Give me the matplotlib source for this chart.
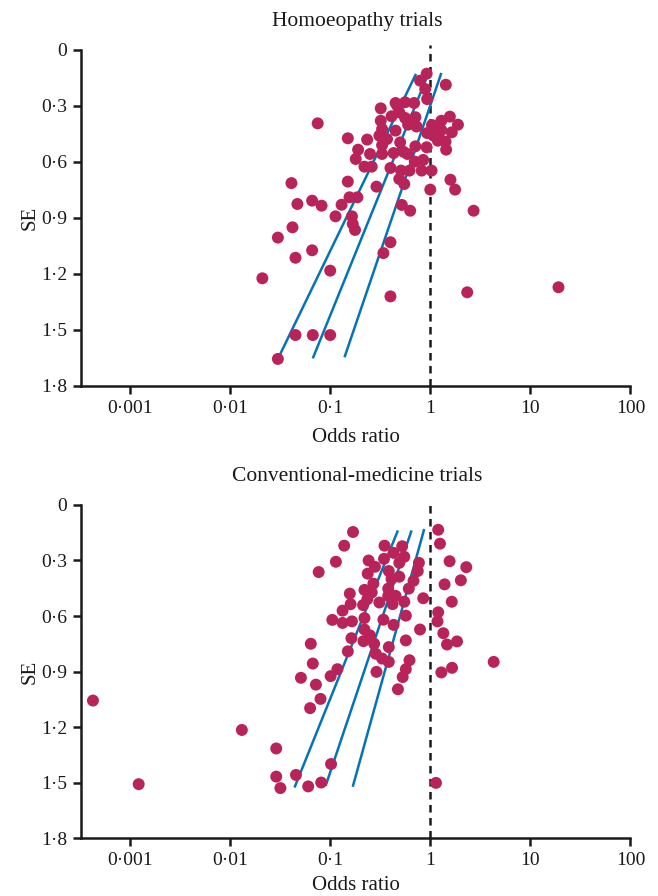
import matplotlib
matplotlib.use("Agg")
import matplotlib.pyplot as plt
import numpy as np

# ---------------- data ----------------
homo_or = [0.92, 0.79, 1.43, 0.89, 0.93, 0.45, 0.56, 0.69, 0.32, 0.41, 0.49, 0.56, 0.71, 0.73,
           0.32, 0.33, 0.45, 0.075, 0.15, 0.234, 0.31, 0.37, 0.50, 0.33, 0.33, 0.19, 0.25, 0.43,
           0.54, 0.71, 0.92, 0.93, 1.04, 1.29, 1.57, 1.89, 1.64, 1.29, 1.19, 1.42, 1.44, 1.08,
           0.18, 0.22, 0.26, 0.40, 0.59, 0.70, 0.85, 0.82, 1.03, 0.62, 0.51, 0.49, 0.55, 0.29,
           1.0, 1.59, 1.77, 0.15, 0.041, 0.047, 0.066, 0.082, 0.13, 0.156, 0.187, 0.52, 0.63,
           2.71, 0.113, 0.165, 0.168, 0.177, 0.042, 0.030, 0.066, 0.045, 0.40, 0.34, 0.100,
           0.021, 0.40, 2.34, 19.1, 0.045, 0.067, 0.10, 0.030, 1.10, 1.22, 0.47, 0.60]
homo_se = [0.127, 0.164, 0.186, 0.209, 0.263, 0.284, 0.28, 0.284, 0.3125, 0.355, 0.334, 0.364,
           0.36, 0.41, 0.379, 0.423, 0.432, 0.393, 0.473, 0.48, 0.459, 0.477, 0.495, 0.51, 0.557,
           0.534, 0.557, 0.552, 0.545, 0.516, 0.521, 0.445, 0.402, 0.379, 0.357, 0.40, 0.441,
           0.429, 0.486, 0.491, 0.534, 0.459, 0.584, 0.625, 0.625, 0.632, 0.557, 0.598, 0.589,
           0.646, 0.646, 0.646, 0.646, 0.691, 0.718, 0.732, 0.748, 0.695, 0.748, 0.705, 0.713,
           0.825, 0.807, 0.834, 0.829, 0.789, 0.789, 0.83, 0.861, 0.861, 0.891, 0.891, 0.932,
           0.964, 0.95, 1.005, 1.073, 1.113, 1.03, 1.088, 1.182, 1.223, 1.32, 1.298, 1.271,
           1.527, 1.527, 1.527, 1.655, 0.42, 0.47, 0.30, 0.40]

conv_or = [0.000426, 0.00122, 0.0131, 0.0289, 0.0289, 0.0318, 0.0455, 0.0603, 0.0813, 0.102,
           0.169, 0.138, 0.114, 0.0767, 0.349, 0.524, 0.43, 0.55, 0.49, 0.345, 0.242, 0.28,
           0.237, 0.385, 0.49, 0.41, 0.77, 0.75, 0.68, 0.61, 0.27, 0.22, 0.26, 0.38, 0.157,
           0.235, 0.213, 0.16, 0.31, 0.38, 0.45, 0.42, 0.55, 0.85, 0.133, 0.57, 0.22, 0.34,
           0.105, 0.133, 0.165, 0.43, 0.22, 0.25, 0.163, 0.215, 0.275, 0.57, 0.79, 0.064,
           0.385, 0.15, 0.285, 0.33, 0.385, 0.62, 0.57, 0.067, 0.118, 0.29, 0.101, 0.53,
           0.051, 0.072, 0.475, 0.08, 0.063,
           1.20, 1.25, 1.56, 2.29, 2.02, 1.39, 1.64, 1.20, 1.18, 1.35, 1.47, 1.85, 4.30,
           1.65, 1.29, 1.14]
conv_se = [1.057, 1.509, 1.216, 1.316, 1.468, 1.530, 1.459, 1.521, 1.5, 1.4,
           0.146, 0.22, 0.307, 0.3625, 0.22, 0.223, 0.259, 0.28, 0.3125, 0.291, 0.3, 0.334,
           0.371, 0.357, 0.3875, 0.40, 0.3125, 0.357, 0.41, 0.452, 0.425, 0.459, 0.473, 0.452,
           0.479, 0.509, 0.541, 0.536, 0.527, 0.491, 0.491, 0.536, 0.523, 0.504, 0.571, 0.598,
           0.611, 0.62, 0.621, 0.6375, 0.629, 0.648, 0.673, 0.705, 0.72, 0.736, 0.75, 0.732,
           0.673, 0.75, 0.768, 0.791, 0.804, 0.83, 0.848, 0.839, 0.8875, 0.857, 0.8875, 0.902,
           0.925, 0.93, 0.934, 0.971, 0.996, 1.048, 1.098,
           0.134, 0.209, 0.304, 0.336, 0.407, 0.429, 0.523, 0.58, 0.629, 0.693, 0.754,
           0.7375, 0.848, 0.880, 0.905, 1.502]

# regression lines: (OR at bottom, SE at bottom, OR at top, SE at top)
homo_lines = [(0.030, 1.655, 0.72, 0.128), (0.067, 1.652, 0.95, 0.13), (0.139, 1.646, 1.29, 0.123)]
conv_lines = [(0.044, 1.527, 0.475, 0.1375), (0.090, 1.518, 0.65, 0.1375), (0.168, 1.523, 0.87, 0.13)]

titles = ["Homoeopathy trials", "Conventional-medicine trials"]
xticks = [0.001, 0.01, 0.1, 1, 10, 100]
xticklabels = ["0\u00b7001", "0\u00b701", "0\u00b71", "1", "10", "100"]
yticks = [0, 0.3, 0.6, 0.9, 1.2, 1.5, 1.8]
yticklabels = ["0", "0\u00b73", "0\u00b76", "0\u00b79", "1\u00b72", "1\u00b75", "1\u00b78"]

# ---------------- plot ----------------
plt.rcParams['font.family'] = ['Liberation Serif', 'DejaVu Serif']
DOT = '#B8245A'
BLUE = '#0474B4'
INK = '#1a1a1a'

fig = plt.figure(figsize=(6.58, 8.96), dpi=100)
ax1 = fig.add_axes([0.1231, 0.5692, 0.8350, 0.3750])
ax2 = fig.add_axes([0.1231, 0.0647, 0.8350, 0.3717])

panels = [(ax1, homo_or, homo_se, homo_lines, titles[0], 8),
          (ax2, conv_or, conv_se, conv_lines, titles[1], 5)]

for ax, ors, ses, lines, title, xpad in panels:
    ax.set_xscale('log')
    ax.set_xlim(10 ** -3.49, 100)
    ax.set_ylim(1.8, 0)
    ax.plot([1, 1], [1.8, -0.025], ls=(0, (3, 2.2)), color=INK, lw=1.8,
            clip_on=False, zorder=1)
    for (x0, y0, x1, y1) in lines:
        ax.plot([x0, x1], [y0, y1], color=BLUE, lw=1.8, zorder=2, solid_capstyle='butt')
    ax.scatter(ors, ses, s=74, color=DOT, edgecolors='none', zorder=3, clip_on=False)
    ax.set_xticks(xticks)
    ax.set_xticklabels(xticklabels)
    ax.minorticks_off()
    ax.set_yticks(yticks)
    ax.set_yticklabels(yticklabels)
    for s in ['top', 'right']:
        ax.spines[s].set_visible(False)
    for s in ['left', 'bottom']:
        ax.spines[s].set_linewidth(1.8)
        ax.spines[s].set_color(INK)
    ax.tick_params(axis='both', direction='out', length=6, width=1.8, color=INK,
                   labelsize=14, labelcolor=INK, pad=4)
    ax.set_xlabel("Odds ratio", fontsize=15, color=INK, labelpad=xpad)
    ax.set_ylabel("SE", fontsize=15, color=INK, labelpad=1)
    ax.set_title(title, fontsize=15.5, color=INK, pad=17, x=0.502)

fig.savefig("out.png", dpi=100)
